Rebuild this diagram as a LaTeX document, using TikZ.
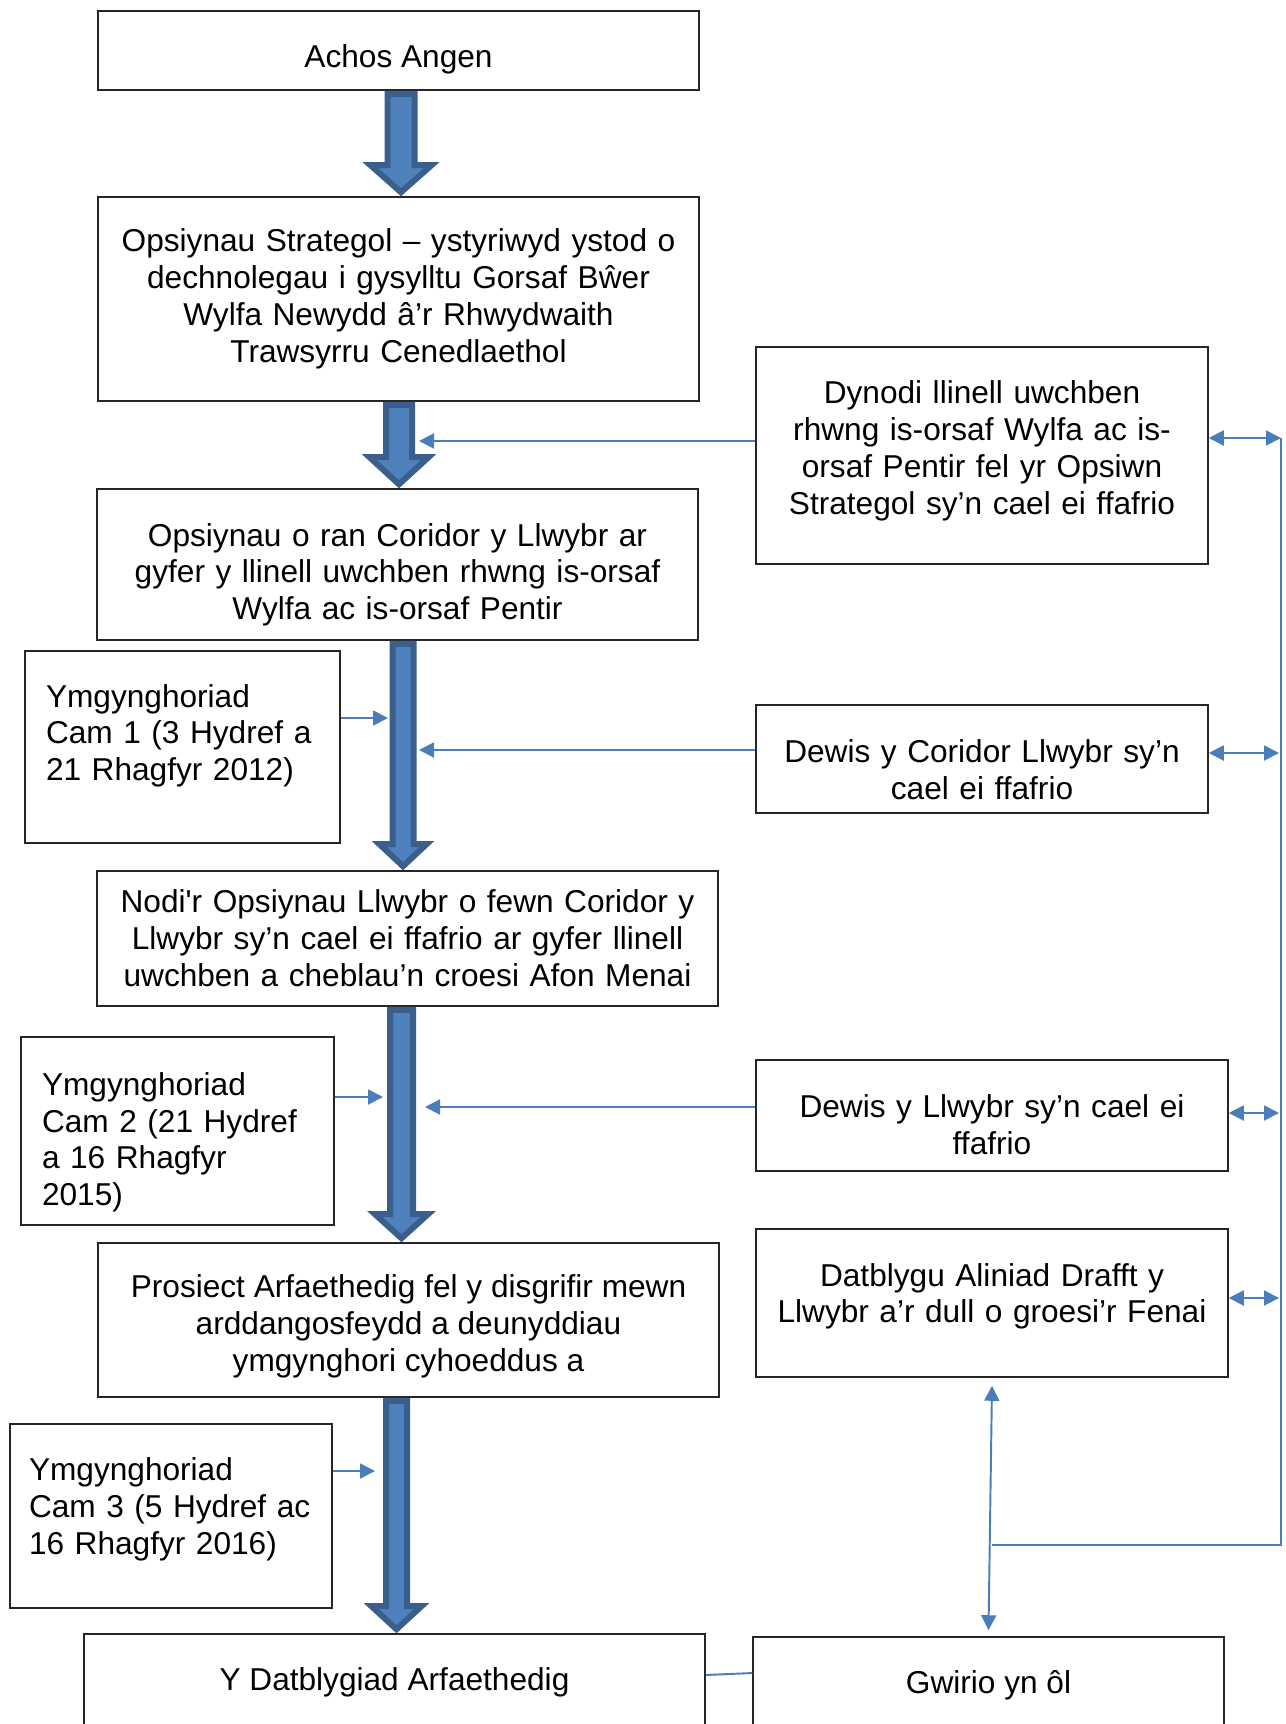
\documentclass[tikz,border=0pt]{standalone}
\usepackage{fontspec}
\setmainfont{Liberation Sans}[Ligatures=TeXOff]
\usetikzlibrary{calc,arrows.meta}

\definecolor{blockfill}{HTML}{4F81BD}
\definecolor{blockline}{HTML}{3A5F8C}
\definecolor{linkblue}{HTML}{4A7EBB}

\tikzset{
  fbox/.style={draw=black!85, line width=0.9pt, align=center, inner sep=2pt,
    font=\fontsize{18}{21}\selectfont},
  leftbox/.style={fbox, align=left, inner xsep=0.42cm},
  drop/.style={execute at begin node={\rule{0pt}{#1}}},
  lift/.style={execute at end node={\rule[-#1]{0pt}{#1}}},
  plaintext/.style={align=center, inner sep=0pt, font=\fontsize{18}{21}\selectfont},
  blockarrow/.style={fill=blockfill, draw=blockline, line width=0.12cm, line join=miter},
  thinline/.style={draw=linkblue, line width=1.1pt},
  thinarrow/.style={thinline, -{Triangle[length=0.3cm,width=0.3cm]}},
  twoarrow/.style={thinline, {Triangle[length=0.3cm,width=0.3cm]}-{Triangle[length=0.3cm,width=0.3cm]}}
}

% from, to, x, half shaft, half head, head length
\newcommand\bigarrow[6]{%
  \draw[blockarrow] let \p1=(#1.south), \p2=(#2.north) in
    ({(#3-#4)*0.02cm},{\y1-0.06cm}) -- ({(#3-#4)*0.02cm},{\y2+0.08cm+#6*0.02cm})
    -- ({(#3-#5)*0.02cm},{\y2+0.08cm+#6*0.02cm}) -- ({#3*0.02cm},{\y2+0.08cm})
    -- ({(#3+#5)*0.02cm},{\y2+0.08cm+#6*0.02cm}) -- ({(#3+#4)*0.02cm},{\y2+0.08cm+#6*0.02cm})
    -- ({(#3+#4)*0.02cm},{\y1-0.06cm}) -- cycle;}

\begin{document}
\begin{tikzpicture}[x=0.02cm, y=-0.02cm]
  \useasboundingbox (0,0) rectangle (1285,1724);
  \clip (0,0) rectangle (1285,1724);

  % main column
  \node[fbox, drop=0.82cm, minimum width=12.02cm, minimum height=1.58cm] (achos) at (398.5,50.5) {Achos Angen};
  \node[fbox, text width=11.7cm, minimum width=12.02cm, minimum height=4.08cm] (strat) at (398.5,299)
    {Opsiynau Strategol – ystyriwyd ystod o\\dechnolegau i gysylltu Gorsaf Bŵer\\Wylfa Newydd â’r Rhwydwaith\\Trawsyrru Cenedlaethol};
  \node[fbox, drop=0.87cm, text width=11.7cm, minimum width=12.02cm, minimum height=3.02cm] (coridor) at (397.5,564.5)
    {Opsiynau o ran Coridor y Llwybr ar\\gyfer y llinell uwchben rhwng is-orsaf\\Wylfa ac is-orsaf Pentir};
  \node[fbox, text width=12.1cm, minimum width=12.42cm, minimum height=2.7cm] (nodi) at (407.5,938.5)
    {Nodi'r Opsiynau Llwybr o fewn Coridor y\\Llwybr sy’n cael ei ffafrio ar gyfer llinell\\uwchben a cheblau’n croesi Afon Menai};
  \node[fbox, minimum width=12.42cm, minimum height=3.08cm] (prosiect) at (408.5,1320) {};
  \node[plaintext, anchor=north] at (408.5,1274)
    {Prosiect Arfaethedig fel y disgrifir mewn\\arddangosfeydd a deunyddiau\\ymgynghori cyhoeddus a};
  \node[fbox, minimum width=12.42cm, minimum height=3cm, text height=0.48cm, text depth=1.24cm]
    (datblygiad) at (394.5,1709) {Y Datblygiad Arfaethedig};

  % consultation stages
  \node[leftbox, lift=0.58cm, minimum height=3.84cm, text width=5.46cm] (camun) at (182.5,747)
    {Ymgynghoriad\\Cam 1 (3 Hydref a\\21 Rhagfyr 2012)};
  \node[leftbox, drop=0.91cm, minimum height=3.76cm, text width=5.42cm] (camdau) at (177.5,1131)
    {Ymgynghoriad\\Cam 2 (21 Hydref\\a 16 Rhagfyr\\2015)};
  \node[leftbox, lift=0.40cm, inner xsep=0.38cm, minimum height=3.68cm, text width=5.68cm] (camtri) at (171,1516)
    {Ymgynghoriad\\Cam 3 (5 Hydref ac\\16 Rhagfyr 2016)};

  % decisions
  \node[fbox, lift=0.31cm, text width=8.7cm, minimum width=9.04cm, minimum height=4.34cm] (dynodi) at (982,455.5)
    {Dynodi llinell uwchben\\rhwng is-orsaf Wylfa ac is-\\orsaf Pentir fel yr Opsiwn\\Strategol sy’n cael ei ffafrio};
  \node[fbox, drop=0.87cm, text width=8.7cm, minimum width=9.04cm, minimum height=2.16cm] (dewiscor) at (982,759)
    {Dewis y Coridor Llwybr sy’n\\cael ei ffafrio};
  \node[fbox, drop=0.82cm, text width=9.1cm, minimum width=9.44cm, minimum height=2.22cm] (dewisllw) at (992,1115.5)
    {Dewis y Llwybr sy’n cael ei\\ffafrio};
  \node[fbox, lift=0.40cm, text width=9.1cm, minimum width=9.44cm, minimum height=2.96cm] (aliniad) at (992,1303)
    {Datblygu Aliniad Drafft y\\Llwybr a’r dull o groesi’r Fenai};
  \node[fbox, minimum width=9.42cm, minimum height=3cm, text height=0.48cm, text depth=1.24cm]
    (gwirio) at (988.5,1712) {Gwirio yn ôl};

  % big arrows
  \bigarrow{achos}{strat}{401}{13.5}{30.5}{27}
  \bigarrow{strat}{coridor}{399}{13}{29.5}{27}
  \bigarrow{coridor}{nodi}{403}{10.5}{23.5}{22}
  \bigarrow{nodi}{prosiect}{401.5}{11.5}{26.5}{24}
  \bigarrow{prosiect}{datblygiad}{396.5}{10.5}{25}{23}

  % ends of the thin arrows
  \coordinate (pa) at (419,441);
  \coordinate (pb) at (419,750);
  \coordinate (pc) at (425,1107);
  \coordinate (qa) at (388,718);
  \coordinate (qb) at (383,1097);
  \coordinate (qc) at (375,1471);
  \coordinate (ra) at (1281,438);
  \coordinate (rb) at (1279,753);
  \coordinate (rc) at (1279,1113);
  \coordinate (rd) at (1279,1298);
  \coordinate (corner) at (1281,1545);

  \draw[thinarrow] (dynodi.west |- pa) -- (pa);
  \draw[thinarrow] (dewiscor.west |- pb) -- (pb);
  \draw[thinarrow] (dewisllw.west |- pc) -- (pc);
  \draw[thinarrow] (camun.east |- qa) -- (qa);
  \draw[thinarrow] (camdau.east |- qb) -- (qb);
  \draw[thinarrow] (camtri.east |- qc) -- (qc);

  \draw[twoarrow] (dynodi.east |- ra) -- (ra);
  \draw[twoarrow] (dewiscor.east |- rb) -- (rb);
  \draw[twoarrow] (dewisllw.east |- rc) -- (rc);
  \draw[twoarrow] (aliniad.east |- rd) -- (rd);
  \draw[thinline] (ra) -- (corner) -- (corner -| aliniad.south);
  \draw[twoarrow] ([yshift=-0.16cm]aliniad.south) -- ([yshift=0.12cm]gwirio.north);
  \draw[thinline] ([yshift=0.68cm]datblygiad.east) -- ([yshift=0.78cm]gwirio.west);
\end{tikzpicture}
\end{document}
